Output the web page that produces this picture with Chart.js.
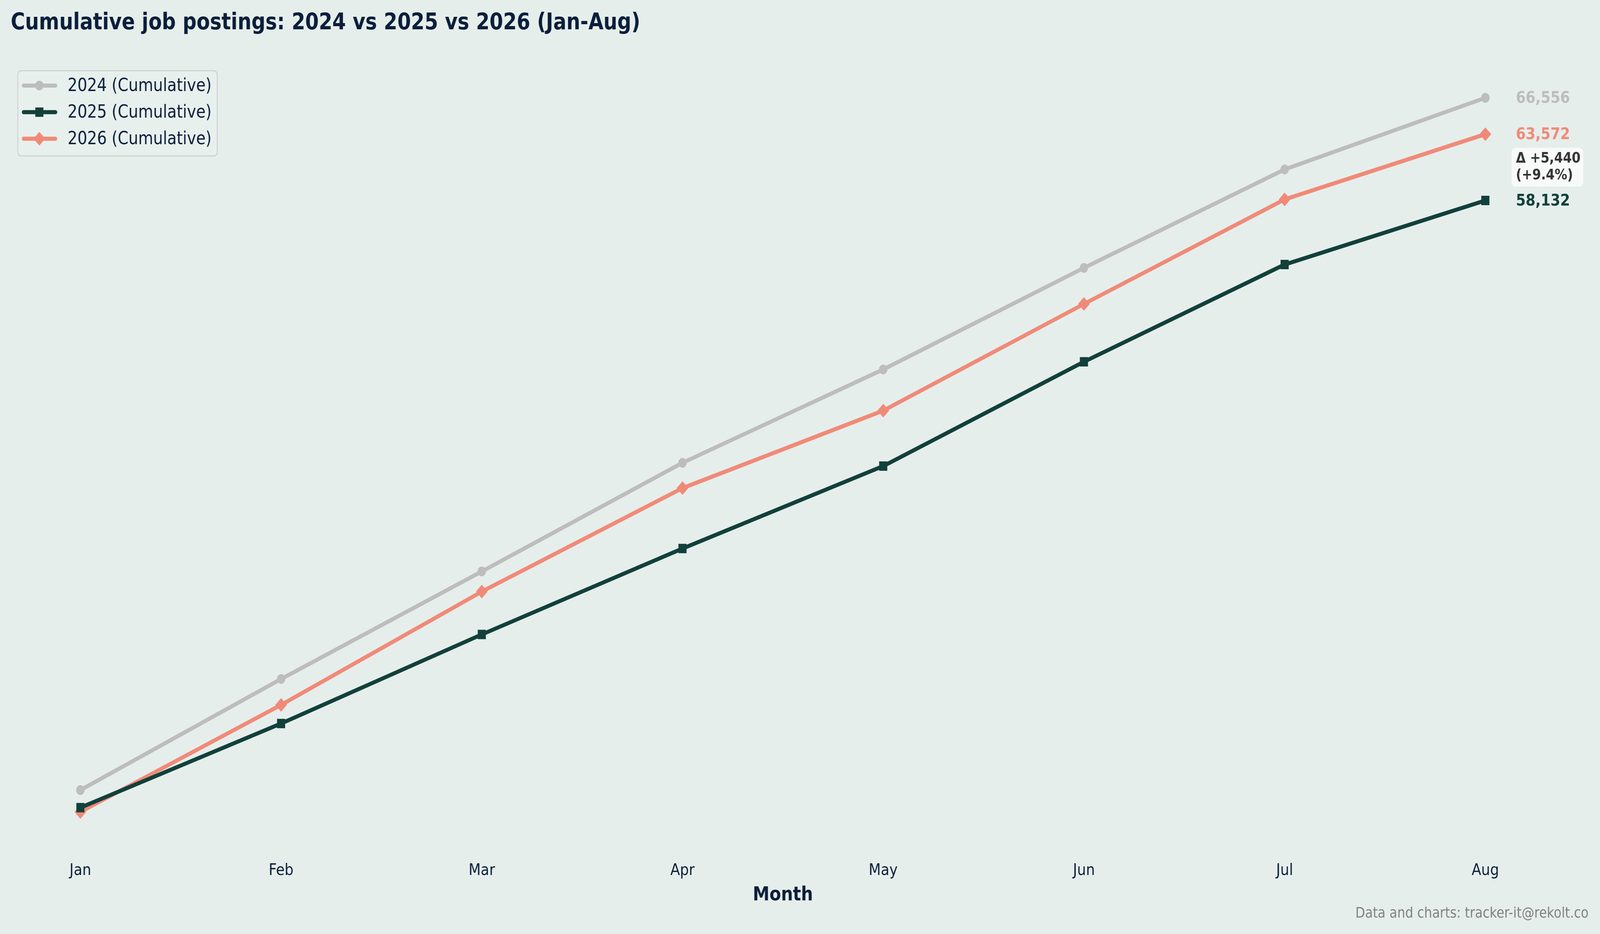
<!DOCTYPE html>
<html>
<head>
<meta charset="utf-8">
<script src="https://cdn.jsdelivr.net/npm/chart.js@4.4.1/dist/chart.umd.min.js"></script>
<style>
  html, body { margin: 0; padding: 0; background: #e6eeeb; overflow: hidden; }
  canvas { display: block; width: 100vw !important; height: 100vh !important; }
</style>
</head>
<body>
<canvas id="myChart" width="4758" height="2390"></canvas>
<script>
const months = ['Jan', 'Feb', 'Mar', 'Apr', 'May', 'Jun', 'Jul', 'Aug'];
const cum2024 = [9733, 18850, 27681, 36596, 44260, 52597, 60678, 66556];
const cum2025 = [8291, 15195, 22506, 29561, 36327, 44889, 52873, 58132];
const cum2026 = [7938, 16724, 26024, 34521, 40880, 49634, 58219, 63572];

const NAVY = '#0b1e3b';
const FONT = "'DejaVu Sans', sans-serif";

// axis limits with a 5% margin like the original
const allVals = cum2024.concat(cum2025, cum2026);
const vMin = Math.min(...allVals), vMax = Math.max(...allVals);
const pad = (vMax - vMin) * 0.05;

const fmt = v => v.toLocaleString('en-US');

const data = {
  labels: months,
  datasets: [
    {
      label: '2024 (Cumulative)',
      data: cum2024,
      borderColor: '#bdbdbd',
      backgroundColor: '#bdbdbd',
      pointStyle: 'circle',
      pointRadius: 12.5,
    },
    {
      label: '2025 (Cumulative)',
      data: cum2025,
      borderColor: '#12403b',
      backgroundColor: '#12403b',
      pointStyle: 'rect',
      pointRadius: 17,
    },
    {
      label: '2026 (Cumulative)',
      data: cum2026,
      borderColor: '#f08a78',
      backgroundColor: '#f08a78',
      pointStyle: 'rectRot',
      pointRadius: 17.5,
    }
  ]
};
data.datasets.forEach(ds => {
  ds.borderWidth = 10.4;
  ds.borderJoinStyle = 'round';
  ds.pointBorderWidth = 0;
  ds.pointHoverRadius = ds.pointRadius;
  ds.tension = 0;
  ds.clip = false;
});

// title, legend, end labels, delta box, footer
const decorations = {
  id: 'decorations',
  afterDatasetsDraw(chart) {
    const ctx = chart.ctx;
    const xs = chart.scales.x, ys = chart.scales.y;
    ctx.save();

    // title
    ctx.fillStyle = NAVY;
    ctx.font = 'bold 58px ' + FONT;
    ctx.textAlign = 'left';
    ctx.textBaseline = 'alphabetic';
    ctx.fillText('Cumulative job postings: 2024 vs 2025 vs 2026 (Jan-Aug)', 32, 75);

    // legend box
    ctx.beginPath();
    ctx.roundRect(53, 181, 593, 218, 10);
    ctx.fillStyle = '#e8f0ed';
    ctx.fill();
    ctx.lineWidth = 3;
    ctx.strokeStyle = '#cfd4d2';
    ctx.stroke();
    const rows = [219, 287, 355];
    chart.data.datasets.forEach((ds, i) => {
      const y = rows[i];
      ctx.beginPath();
      ctx.moveTo(70, y);
      ctx.lineTo(165, y);
      ctx.lineWidth = ds.borderWidth;
      ctx.lineCap = 'round';
      ctx.strokeStyle = ds.borderColor;
      ctx.stroke();
      ctx.fillStyle = ds.backgroundColor;
      Chart.helpers.drawPoint(ctx, {pointStyle: ds.pointStyle, radius: ds.pointRadius, borderWidth: 0}, 117, y);
      ctx.fillStyle = NAVY;
      ctx.font = '45.8px ' + FONT;
      ctx.textBaseline = 'middle';
      ctx.fillText(ds.label, 201, y + 2);
    });

    // end labels
    const last = months.length - 1;
    const xEnd = xs.getPixelForValue(last) + 91;
    ctx.font = 'bold 41.7px ' + FONT;
    ctx.textBaseline = 'middle';
    chart.data.datasets.forEach(ds => {
      const v = ds.data[last];
      ctx.fillStyle = ds.borderColor;
      ctx.fillText(fmt(v), xEnd, ys.getPixelForValue(v) + 2);
    });

    // delta box between 2026 and 2025
    const d = cum2026[last] - cum2025[last];
    const pct = d / cum2025[last] * 100;
    const yMid = ys.getPixelForValue((cum2026[last] + cum2025[last]) / 2);
    ctx.beginPath();
    ctx.roundRect(xEnd - 13, yMid - 50, 213, 99, 12);
    ctx.fillStyle = '#f8faf9';
    ctx.fill();
    ctx.fillStyle = '#333333';
    ctx.font = 'bold 37.5px ' + FONT;
    ctx.fillText('Δ ' + (d >= 0 ? '+' : '') + fmt(d), xEnd, yMid - 22);
    ctx.fillText('(' + (pct >= 0 ? '+' : '') + pct.toFixed(1) + '%)', xEnd, yMid + 21);

    // footer
    ctx.fillStyle = '#808080';
    ctx.font = '37.5px ' + FONT;
    ctx.textAlign = 'right';
    ctx.fillText('Data and charts: tracker-it@rekolt.co', 4724, 2338);

    ctx.restore();
  }
};

const config = {
  type: 'line',
  data,
  options: {
    responsive: false,
    animation: false,
    devicePixelRatio: 1,
    layout: {
      padding: { top: 159, left: 239, right: 341, bottom: 0 }
    },
    scales: {
      x: {
        offset: false,
        grid: { display: false, drawTicks: false },
        border: { display: false },
        ticks: {
          color: NAVY,
          padding: 34,
          font: { family: FONT, size: 41.7 },
          maxRotation: 0,
          autoSkip: false
        },
        title: {
          display: true,
          text: 'Month',
          color: NAVY,
          font: { family: FONT, size: 50, weight: 'bold' },
          padding: { top: 0, bottom: 69 }
        },
        afterFit(scale) { scale.height = 221; }
      },
      y: {
        display: false,
        min: vMin - pad,
        max: vMax + pad
      }
    },
    plugins: {
      legend: { display: false },
      title: { display: false },
      tooltip: { enabled: false }
    }
  },
  plugins: [decorations]
};

// render init block
const myChart = new Chart(
  document.getElementById('myChart'),
  config
);
</script>
</body>
</html>
